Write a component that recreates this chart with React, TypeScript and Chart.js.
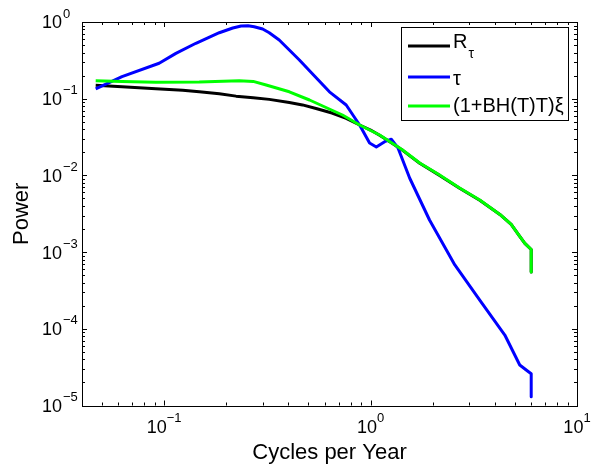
import React, { useEffect, useRef } from "react";
import { Chart, registerables } from "chart.js";

Chart.register(...registerables);

// ---- data ----
const rtauFreq = [0.0466, 0.0625, 0.0912, 0.123, 0.148, 0.185, 0.223, 0.27, 0.323, 0.404, 0.468, 0.55, 0.65, 0.762, 0.885, 1.0, 1.106, 1.25, 1.43, 1.73, 2.16, 2.7, 3.38, 4.23, 4.8, 5.28, 5.59, 6.0, 6.0];
const rtauPower = [0.15, 0.143, 0.135, 0.129, 0.123, 0.116, 0.108, 0.103, 0.098, 0.089, 0.083, 0.074, 0.065, 0.0555, 0.0454, 0.039, 0.0334, 0.027, 0.0212, 0.0144, 0.01, 0.0068, 0.00475, 0.0031, 0.0023, 0.0016, 0.0013, 0.00108, 0.00055];

const tauFreq = [0.0466, 0.0625, 0.0946, 0.114, 0.1425, 0.185, 0.215, 0.236, 0.255, 0.273, 0.3, 0.323, 0.361, 0.404, 0.452, 0.535, 0.632, 0.762, 0.885, 0.989, 1.066, 1.17, 1.26, 1.358, 1.546, 1.93, 2.56, 3.38, 4.47, 5.28, 5.78, 6.0, 6.0];
const tauPower = [0.134, 0.194, 0.29, 0.39, 0.528, 0.725, 0.835, 0.885, 0.895, 0.868, 0.81, 0.725, 0.583, 0.431, 0.32, 0.198, 0.123, 0.0827, 0.0454, 0.0264, 0.0235, 0.0275, 0.0296, 0.0228, 0.00925, 0.00262, 0.00068, 0.000237, 0.000083, 0.0000337, 0.000028, 0.000026, 0.000013];

const bhFreq = [0.0466, 0.0625, 0.0912, 0.148, 0.231, 0.27, 0.312, 0.404, 0.506, 0.731, 0.885, 1.106, 1.43, 1.73, 2.16, 2.7, 3.38, 4.23, 4.8, 5.28, 5.59, 6.0, 6.0];
const bhPower = [0.172, 0.168, 0.164, 0.165, 0.172, 0.168, 0.151, 0.123, 0.0962, 0.0613, 0.0454, 0.0336, 0.0214, 0.0145, 0.0101, 0.00685, 0.00478, 0.0031, 0.0023, 0.0016, 0.0013, 0.00108, 0.00055];

const xTickExponents = [-1, 0, 1];
const yTickExponents = [-5, -4, -3, -2, -1, 0];

const legendItems = [
  { base: "R", sub: "τ", color: "#000000" },
  { base: "τ", sub: "", color: "#0000ff" },
  { base: "(1+BH(T)T)ξ", sub: "", color: "#00ff00" },
];

const xTitle = "Cycles per Year";
const yTitle = "Power";

const FONT = '"Liberation Sans", Arial, Helvetica, sans-serif';

function isPow10(v: number) {
  const l = Math.log10(v);
  return Math.abs(l - Math.round(l)) < 1e-9;
}

function logTicks(min: number, max: number) {
  const out: number[] = [];
  const e0 = Math.floor(Math.log10(min));
  const e1 = Math.ceil(Math.log10(max));
  for (let e = e0; e <= e1; e++) {
    for (let m = 1; m <= 9; m++) {
      const v = m * Math.pow(10, e);
      if (v >= min * 0.999999 && v <= max * 1.000001) out.push(v);
    }
  }
  return out;
}

const decorPlugin = {
  id: "matlabDecor",
  afterDraw(chart: any) {
    const { ctx, chartArea: a, scales } = chart;
    const xs = scales.x;
    const ys = scales.y;
    ctx.save();
    ctx.strokeStyle = "#000";
    ctx.fillStyle = "#000";
    ctx.lineWidth = 1;

    // ticks (inward, on all four sides)
    for (const v of logTicks(xs.min, xs.max)) {
      const px = Math.round(xs.getPixelForValue(v)) + 0.5;
      const len = isPow10(v) ? 5 : 3;
      ctx.beginPath();
      ctx.moveTo(px, a.bottom);
      ctx.lineTo(px, a.bottom - len);
      ctx.moveTo(px, a.top);
      ctx.lineTo(px, a.top + len);
      ctx.stroke();
    }
    for (const v of logTicks(ys.min, ys.max)) {
      const py = Math.round(ys.getPixelForValue(v)) + 0.5;
      const len = isPow10(v) ? 5 : 3;
      ctx.beginPath();
      ctx.moveTo(a.left, py);
      ctx.lineTo(a.left + len, py);
      ctx.moveTo(a.right, py);
      ctx.lineTo(a.right - len, py);
      ctx.stroke();
    }

    // box
    ctx.strokeRect(Math.round(a.left) + 0.5, Math.round(a.top) + 0.5, Math.round(a.right - a.left), Math.round(a.bottom - a.top));

    // x tick labels
    for (const e of xTickExponents) {
      const px = xs.getPixelForValue(Math.pow(10, e));
      const exp = e < 0 ? "\u2212" + Math.abs(e) : String(e);
      ctx.font = `18px ${FONT}`;
      const wb = ctx.measureText("10").width;
      ctx.font = `13px ${FONT}`;
      const we = ctx.measureText(exp).width;
      const start = px - (wb + we) / 2;
      ctx.textBaseline = "middle";
      ctx.textAlign = "left";
      ctx.font = `18px ${FONT}`;
      ctx.fillText("10", start, a.bottom + 23);
      ctx.font = `13px ${FONT}`;
      ctx.fillText(exp, start + wb, a.bottom + 13);
    }

    // y tick labels
    for (const e of yTickExponents) {
      const py = ys.getPixelForValue(Math.pow(10, e));
      const exp = e < 0 ? "\u2212" + Math.abs(e) : String(e);
      const right = a.left - 20;
      ctx.textBaseline = "middle";
      ctx.textAlign = "right";
      ctx.font = `18px ${FONT}`;
      ctx.fillText("10", right, py + 1.5);
      ctx.textAlign = "left";
      ctx.font = `13px ${FONT}`;
      ctx.fillText(exp, right + 1, py - 8);
    }

    // axis titles
    ctx.font = `22px ${FONT}`;
    ctx.textAlign = "center";
    ctx.textBaseline = "middle";
    ctx.fillText(xTitle, (a.left + a.right) / 2, a.bottom + 47);
    ctx.save();
    ctx.translate(22, (a.top + a.bottom) / 2);
    ctx.rotate(-Math.PI / 2);
    ctx.fillText(yTitle, 0, 0);
    ctx.restore();

    // legend
    const bx = 401.5, by = 27.5, bw = 167, bh = 93;
    ctx.fillStyle = "#fff";
    ctx.fillRect(bx, by, bw, bh);
    ctx.strokeStyle = "#000";
    ctx.lineWidth = 1;
    ctx.strokeRect(bx, by, bw, bh);
    const rows = [46, 77, 106];
    const textY = [42, 79, 106];
    legendItems.forEach((it, i) => {
      ctx.strokeStyle = it.color;
      ctx.lineWidth = 3;
      ctx.beginPath();
      ctx.moveTo(408, rows[i]);
      ctx.lineTo(450, rows[i]);
      ctx.stroke();
      ctx.fillStyle = "#000";
      ctx.textAlign = "left";
      ctx.textBaseline = "middle";
      ctx.font = `20px ${FONT}`;
      ctx.fillText(it.base, 453, textY[i]);
      if (it.sub) {
        const w = ctx.measureText(it.base).width;
        ctx.font = `14px ${FONT}`;
        ctx.fillText(it.sub, 453 + w + 1, textY[i] + 12);
      }
    });
    ctx.restore();
  },
};

function toPoints(xs: number[], ys: number[]) {
  return xs.map((x, i) => ({ x, y: ys[i] }));
}

export default function App() {
  const ref = useRef<HTMLCanvasElement | null>(null);
  useEffect(() => {
    if (!ref.current) return;
    const chart = new Chart(ref.current, {
      type: "line",
      data: {
        datasets: [
          { label: "Rτ", data: toPoints(rtauFreq, rtauPower), borderColor: "#000000", backgroundColor: "#000000", borderWidth: 3, order: 3 },
          { label: "τ", data: toPoints(tauFreq, tauPower), borderColor: "#0000ff", backgroundColor: "#0000ff", borderWidth: 3, order: 2 },
          { label: "(1+BH(T)T)ξ", data: toPoints(bhFreq, bhPower), borderColor: "#00ff00", backgroundColor: "#00ff00", borderWidth: 3, order: 1 },
        ],
      },
      options: {
        animation: false,
        responsive: false,
        devicePixelRatio: 1,
        layout: { padding: { left: 82, right: 14, top: 22, bottom: 64.5 } },
        elements: { point: { radius: 0 }, line: { tension: 0, borderJoinStyle: "round" } },
        plugins: { legend: { display: false }, tooltip: { enabled: false }, title: { display: false } },
        scales: {
          x: {
            type: "logarithmic",
            min: 0.04,
            max: 10,
            ticks: { display: false },
            grid: { display: false },
            border: { display: false },
            afterFit: (s: any) => { s.height = 0; },
          },
          y: {
            type: "logarithmic",
            min: 1e-5,
            max: 1,
            ticks: { display: false },
            grid: { display: false },
            border: { display: false },
            afterFit: (s: any) => { s.width = 0; },
          },
        },
      } as any,
      plugins: [decorPlugin],
    });
    return () => chart.destroy();
  }, []);
  return (
    <div style={{ position: "absolute", left: 0, top: 0, width: 591, height: 470, background: "#fff" }}>
      <canvas ref={ref} width={591} height={470} style={{ display: "block" }} />
    </div>
  );
}
